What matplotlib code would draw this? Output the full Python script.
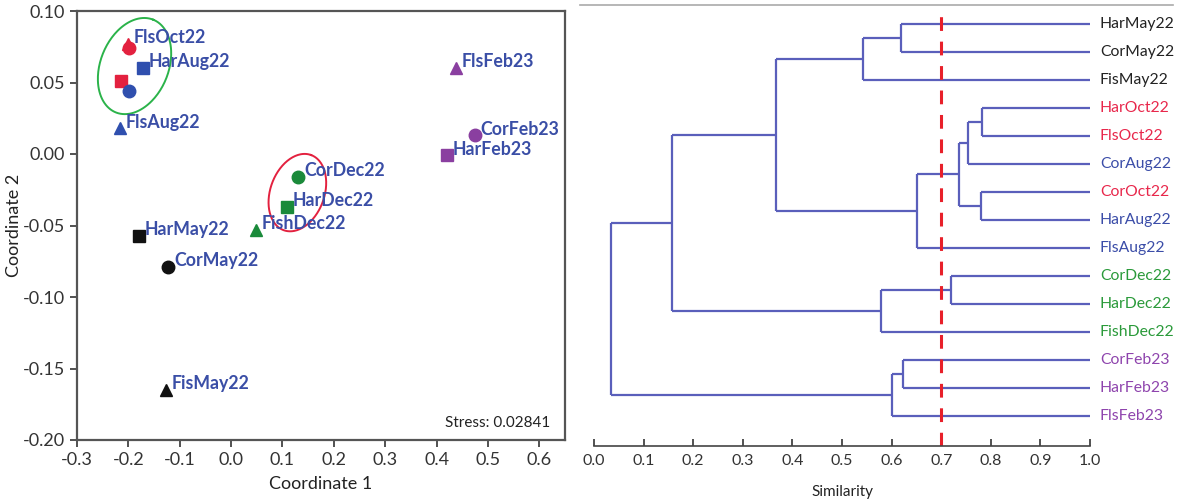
import numpy as np
import matplotlib
matplotlib.use("Agg")
import matplotlib.pyplot as plt
from matplotlib.lines import Line2D

plt.rcParams['font.family'] = ['Lato', 'DejaVu Sans']

# ---------------- NMDS ordination data ----------------
samples = ["FlsOct22", "CorOct22", "HarOct22", "HarAug22", "CorAug22", "FlsAug22",
           "CorDec22", "HarDec22", "FishDec22", "HarMay22", "CorMay22", "FisMay22",
           "FlsFeb23", "CorFeb23", "HarFeb23"]
coord1 = [-0.200, -0.199, -0.214, -0.172, -0.198, -0.216,
          0.131, 0.109, 0.049, -0.179, -0.122, -0.127,
          0.437, 0.475, 0.420]
coord2 = [0.077, 0.074, 0.051, 0.060, 0.044, 0.018,
          -0.016, -0.037, -0.053, -0.057, -0.079, -0.165,
          0.060, 0.013, -0.001]
shown = [True, False, False, True, False, True,
         True, True, True, True, True, True,
         True, True, True]
markers = ["^", "o", "s", "s", "o", "^",
           "o", "s", "^", "s", "o", "^",
           "^", "o", "s"]
point_colors = ["#e3213f", "#e3213f", "#e3213f", "#2f4fae", "#2f4fae", "#2f4fae",
                "#1a8a3a", "#1a8a3a", "#1a8a3a", "#111111", "#111111", "#111111",
                "#8a3fa0", "#8a3fa0", "#8a3fa0"]
stress = 0.02841
x_ticks = [-0.3, -0.2, -0.1, 0.0, 0.1, 0.2, 0.3, 0.4, 0.5, 0.6]
y_ticks = [-0.20, -0.15, -0.10, -0.05, 0.00, 0.05, 0.10]

# ---------------- Cluster (similarity) data ----------------
leaves = ["HarMay22", "CorMay22", "FisMay22", "HarOct22", "FlsOct22", "CorAug22",
          "CorOct22", "HarAug22", "FlsAug22", "CorDec22", "HarDec22", "FishDec22",
          "CorFeb23", "HarFeb23", "FlsFeb23"]
leaf_colors = ["#222222", "#222222", "#222222", "#e8274b", "#e8274b", "#3b4da8",
               "#e8274b", "#3b4da8", "#3b4da8", "#2a9a3a", "#2a9a3a", "#2a9a3a",
               "#8e44ad", "#8e44ad", "#8e44ad"]
# merges: (child a, child b, similarity); leaves are 0..14, new nodes 15..
merges = [
    (0, 1, 0.618),     # 15
    (15, 2, 0.542),    # 16
    (3, 4, 0.783),     # 17
    (17, 5, 0.755),    # 18
    (6, 7, 0.781),     # 19
    (18, 19, 0.736),   # 20
    (20, 8, 0.651),    # 21
    (16, 21, 0.366),   # 22
    (9, 10, 0.720),    # 23
    (23, 11, 0.579),   # 24
    (22, 24, 0.158),   # 25
    (12, 13, 0.622),   # 26
    (26, 14, 0.600),   # 27
    (25, 27, 0.034),   # 28
]
cut_level = 0.7
sim_ticks = [0.0, 0.1, 0.2, 0.3, 0.4, 0.5, 0.6, 0.7, 0.8, 0.9, 1.0]

W, H = 1178, 503
fig = plt.figure(figsize=(W / 100, H / 100), dpi=100)

# ---------------- Left: NMDS plot ----------------
ax = fig.add_axes([77 / W, 1 - 440 / H, (565 - 77) / W, (440 - 11) / H])
for x, y, m, c in zip(coord1, coord2, markers, point_colors):
    ms = 9 if m != "^" else 8
    ax.plot([x], [y], marker=m, color=c, markersize=ms, linestyle="none")
for x, y, s, show in zip(coord1, coord2, samples, shown):
    if show:
        ax.annotate(s, (x, y), xytext=(4, 4.5), textcoords="offset points",
                    ha="left", va="center", fontsize=12.8, fontweight="bold",
                    color="#3a4ea6")

ax.set_xlim(-0.3, 0.65)
ax.set_ylim(-0.20, 0.10)
ax.set_xticks(x_ticks)
ax.set_xticklabels([f"{v:.1f}" for v in x_ticks])
ax.set_yticks(y_ticks)
ax.set_yticklabels([f"{v:.2f}" for v in y_ticks])
ax.tick_params(axis="both", labelsize=13, colors="#333333", length=5, width=1.2,
               direction="out")
for sp in ax.spines.values():
    sp.set_color("#555555")
    sp.set_linewidth(1.6)
ax.set_xlabel("Coordinate 1", fontsize=13, color="#222222", labelpad=6)
ax.set_ylabel("Coordinate 2", fontsize=13, color="#222222", labelpad=1)
ax.text(0.97, 0.04, f"Stress: {stress}", transform=ax.transAxes, ha="right",
        va="center", fontsize=11, color="#222222")

# Group ellipses drawn in pixel units around a data-space centre
px_x = (565 - 77) / 0.95
px_y = (440 - 11) / 0.30


def group_ellipse(axis, cx, cy, a_px, b_px, angle_deg, color):
    t = np.linspace(0, 2 * np.pi, 200)
    th = np.deg2rad(angle_deg)
    dx = a_px * np.cos(t) * np.cos(th) - b_px * np.sin(t) * np.sin(th)
    dy = a_px * np.cos(t) * np.sin(th) + b_px * np.sin(t) * np.cos(th)
    axis.plot(cx + dx / px_x, cy + dy / px_y, color=color, linewidth=1.4)


group_ellipse(ax, -0.188, 0.0615, 50, 34, 68, "#2bb34a")
group_ellipse(ax, 0.129, -0.0270, 40, 27, 70, "#e3213f")

# ---------------- Right: dendrogram ----------------
ax2 = fig.add_axes([594 / W, 1 - 446 / H, (1090 - 594) / W, (446 - 10) / H])
n = len(leaves)
ypos = {i: float(i) for i in range(n)}
xpos = {i: 1.0 for i in range(n)}
line_kw = dict(color="#5a5fbb", linewidth=1.6, solid_capstyle="butt")
for k, (a, b, s) in enumerate(merges):
    node = n + k
    for child in (a, b):
        ax2.plot([s, xpos[child]], [ypos[child], ypos[child]], **line_kw)
    ax2.plot([s, s], [ypos[a], ypos[b]], **line_kw)
    ypos[node] = (ypos[a] + ypos[b]) / 2
    xpos[node] = s

for i, (name, c) in enumerate(zip(leaves, leaf_colors)):
    ax2.text(1.02, i, name, ha="left", va="center", fontsize=11.3, color=c,
             clip_on=False)

ax2.axvline(cut_level, color="#e8202a", linewidth=2.2, linestyle=(0, (4.5, 3.5)))

ax2.set_xlim(0, 1.0)
ax2.set_ylim((446 - 24) / 28, (10 - 24) / 28)
ax2.set_xticks(sim_ticks)
ax2.set_xticklabels([f"{v:.1f}" for v in sim_ticks])
ax2.set_yticks([])
for side in ("top", "left", "right"):
    ax2.spines[side].set_visible(False)
ax2.spines["bottom"].set_color("#444444")
ax2.spines["bottom"].set_linewidth(1.2)
ax2.tick_params(axis="x", labelsize=11.5, colors="#333333", direction="in",
                length=5, width=1.2, pad=6)
ax2.set_xlabel("Similarity", fontsize=11, color="#222222", labelpad=12)

# thin frame line across the top of the dendrogram panel
fig.add_artist(Line2D([580 / W, 1173 / W], [1 - 5 / H, 1 - 5 / H],
                      color="#aaaaaa", linewidth=1.2))

fig.savefig("out.png", dpi=100)
